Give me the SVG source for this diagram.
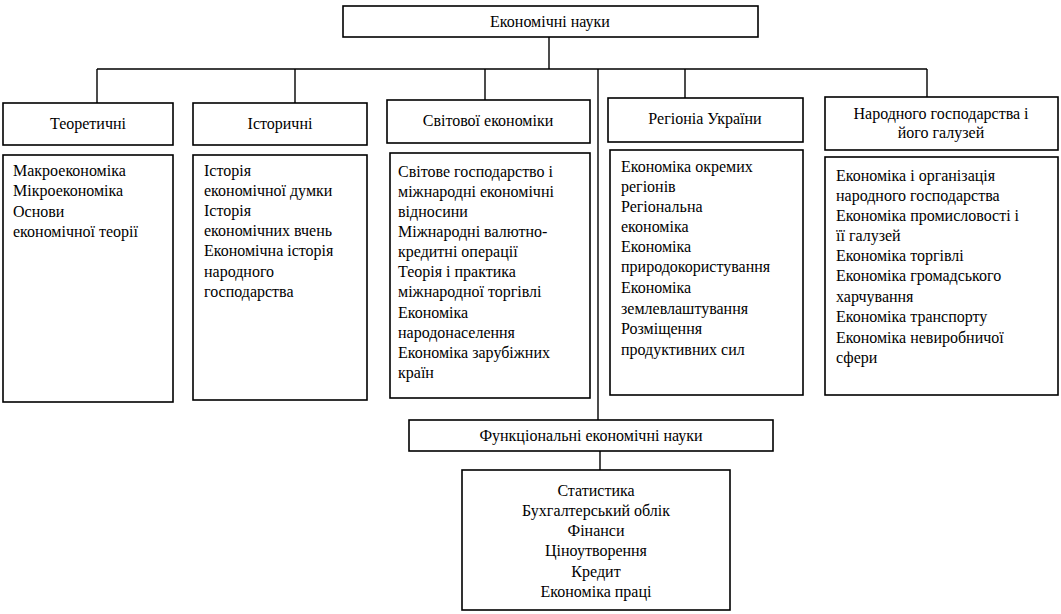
<svg xmlns="http://www.w3.org/2000/svg" width="1061" height="614" viewBox="0 0 1061 614" font-family="'Liberation Serif', 'DejaVu Serif', serif">
<style>
.box{fill:#fff;stroke:#000;stroke-width:1.6}
.ln{fill:none;stroke:#000;stroke-width:1.4}
text{font-family:"Liberation Serif","Times New Roman","DejaVu Serif",serif;font-size:16px;fill:#000}
.c{text-anchor:middle}
</style>
<rect width="1061" height="614" fill="#fff"/>
<g id="connectors">
<path class="ln" d="M549 37V69M97 69H927M97 69V103M295 69V103M485 69V100M685 69V98M927 69V97M598 69V420M600 451V470"/>
</g>
<g id="root">
<rect class="box" x="343" y="6" width="415" height="31"/>
<text class="c" x="550" y="27">Економічні науки</text>
</g>
<g id="teor">
<rect class="box" x="3" y="103" width="170" height="42"/>
<text class="c" x="88" y="129">Теоретичні</text>
</g>
<g id="teor-list">
<rect class="box" x="3" y="155" width="170" height="247"/>
<text x="13" y="176">Макроекономіка</text>
<text x="13" y="196">Мікроекономіка</text>
<text x="13" y="217">Основи</text>
<text x="13" y="237">економічної теорії</text>
</g>
<g id="ist">
<rect class="box" x="193" y="103" width="174" height="42"/>
<text class="c" x="280" y="129">Історичні</text>
</g>
<g id="ist-list">
<rect class="box" x="193" y="155" width="174" height="245"/>
<text x="204" y="176">Історія</text>
<text x="204" y="196">економічної думки</text>
<text x="204" y="216">Історія</text>
<text x="204" y="236">економічних вчень</text>
<text x="204" y="256">Економічна історія</text>
<text x="204" y="277">народного</text>
<text x="204" y="297">господарства</text>
</g>
<g id="svit">
<rect class="box" x="387" y="100" width="203" height="43"/>
<text class="c" x="488" y="126">Світової економіки</text>
</g>
<g id="svit-list">
<rect class="box" x="390" y="153" width="200" height="245"/>
<text x="398" y="177">Світове господарство і</text>
<text x="398" y="197">міжнародні економічні</text>
<text x="398" y="217">відносини</text>
<text x="398" y="237">Міжнародні валютно-</text>
<text x="398" y="257">кредитні операції</text>
<text x="398" y="277">Теорія і практика</text>
<text x="398" y="297">міжнародної торгівлі</text>
<text x="398" y="318">Економіка</text>
<text x="398" y="338">народонаселення</text>
<text x="398" y="358">Економіка зарубіжних</text>
<text x="398" y="378">країн</text>
</g>
<g id="reg">
<rect class="box" x="608" y="98" width="195" height="44"/>
<text class="c" x="705" y="124">Регіоніа України</text>
</g>
<g id="reg-list">
<rect class="box" x="610" y="150" width="193" height="245"/>
<text x="621" y="172">Економіка окремих</text>
<text x="621" y="192">регіонів</text>
<text x="621" y="212">Регіональна</text>
<text x="621" y="232">економіка</text>
<text x="621" y="252">Економіка</text>
<text x="621" y="272">природокористування</text>
<text x="621" y="293">Економіка</text>
<text x="621" y="314">землевлаштування</text>
<text x="621" y="334">Розміщення</text>
<text x="621" y="355">продуктивних сил</text>
</g>
<g id="nar">
<rect class="box" x="825" y="97" width="233" height="53"/>
<text class="c" x="941" y="119">Народного господарства і</text>
<text class="c" x="941" y="138">його галузей</text>
</g>
<g id="nar-list">
<rect class="box" x="825" y="157" width="233" height="238"/>
<text x="836" y="181">Економіка і організація</text>
<text x="836" y="201">народного господарства</text>
<text x="836" y="221">Економіка промисловості і</text>
<text x="836" y="241">її галузей</text>
<text x="836" y="261">Економіка торгівлі</text>
<text x="836" y="281">Економіка громадського</text>
<text x="836" y="302">харчування</text>
<text x="836" y="322">Економіка транспорту</text>
<text x="836" y="343">Економіка невиробничої</text>
<text x="836" y="363">сфери</text>
</g>
<g id="func">
<rect class="box" x="409" y="420" width="364" height="31"/>
<text class="c" x="591" y="441">Функціональні економічні науки</text>
</g>
<g id="func-list">
<rect class="box" x="462" y="470" width="268" height="140"/>
<text class="c" x="596" y="496">Статистика</text>
<text class="c" x="596" y="516">Бухгалтерський облік</text>
<text class="c" x="596" y="536">Фінанси</text>
<text class="c" x="596" y="556">Ціноутворення</text>
<text class="c" x="596" y="577">Кредит</text>
<text class="c" x="596" y="597">Економіка праці</text>
</g>
</svg>
